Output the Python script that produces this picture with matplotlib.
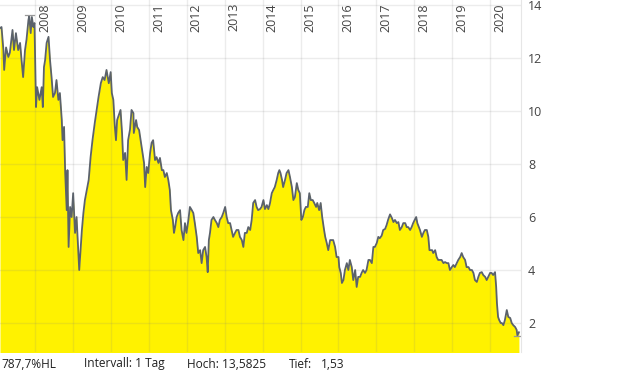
import matplotlib
matplotlib.use("Agg")
import matplotlib.pyplot as plt
import matplotlib.transforms as mtransforms
import numpy as np

YEARS = [
    2007.07, 2007.11, 2007.16, 2007.18, 2007.23, 2007.29, 2007.33, 2007.40, 2007.44, 2007.49,
    2007.55, 2007.60, 2007.64, 2007.68, 2007.73, 2007.77, 2007.82, 2007.84, 2007.88, 2007.91,
    2007.95, 2007.98, 2008.02, 2008.05, 2008.11, 2008.17, 2008.20, 2008.23, 2008.26, 2008.30,
    2008.35, 2008.39, 2008.43, 2008.47, 2008.52, 2008.56, 2008.61, 2008.65, 2008.70, 2008.72,
    2008.76, 2008.79, 2008.83, 2008.85, 2008.88, 2008.92, 2008.96, 2009.00, 2009.05, 2009.09,
    2009.12, 2009.16, 2009.20, 2009.23, 2009.27, 2009.31, 2009.36, 2009.41, 2009.46, 2009.51,
    2009.57, 2009.62, 2009.67, 2009.73, 2009.78, 2009.83, 2009.88, 2009.94, 2009.99, 2010.02,
    2010.06, 2010.10, 2010.13, 2010.16, 2010.22, 2010.25, 2010.29, 2010.32, 2010.37, 2010.41,
    2010.45, 2010.50, 2010.54, 2010.59, 2010.60, 2010.66, 2010.69, 2010.74, 2010.78, 2010.83,
    2010.87, 2010.90, 2010.94, 2010.98, 2011.03, 2011.07, 2011.11, 2011.16, 2011.20, 2011.25,
    2011.29, 2011.34, 2011.38, 2011.42, 2011.47, 2011.51, 2011.55, 2011.58, 2011.63, 2011.66,
    2011.69, 2011.73, 2011.77, 2011.82, 2011.86, 2011.91, 2011.95, 2011.99, 2012.04, 2012.08,
    2012.13, 2012.17, 2012.21, 2012.26, 2012.30, 2012.35, 2012.39, 2012.43, 2012.48, 2012.52,
    2012.55, 2012.58, 2012.61, 2012.65, 2012.70, 2012.74, 2012.79, 2012.83, 2012.87, 2012.92,
    2012.96, 2013.01, 2013.05, 2013.09, 2013.14, 2013.18, 2013.22, 2013.27, 2013.31, 2013.36,
    2013.40, 2013.45, 2013.49, 2013.53, 2013.58, 2013.62, 2013.67, 2013.71, 2013.75, 2013.80,
    2013.84, 2013.88, 2013.93, 2013.97, 2014.02, 2014.06, 2014.11, 2014.15, 2014.19, 2014.24,
    2014.28, 2014.32, 2014.37, 2014.41, 2014.44, 2014.47, 2014.51, 2014.54, 2014.59, 2014.63,
    2014.68, 2014.72, 2014.77, 2014.81, 2014.85, 2014.90, 2014.94, 2014.98, 2015.02, 2015.06,
    2015.10, 2015.14, 2015.19, 2015.23, 2015.27, 2015.32, 2015.36, 2015.41, 2015.44, 2015.49,
    2015.53, 2015.57, 2015.62, 2015.65, 2015.69, 2015.73, 2015.78, 2015.82, 2015.86, 2015.91,
    2015.95, 2016.00, 2016.02, 2016.06, 2016.09, 2016.13, 2016.17, 2016.22, 2016.26, 2016.30,
    2016.35, 2016.39, 2016.44, 2016.48, 2016.52, 2016.57, 2016.61, 2016.65, 2016.70, 2016.74,
    2016.79, 2016.83, 2016.88, 2016.92, 2016.96, 2017.01, 2017.05, 2017.09, 2017.14, 2017.18,
    2017.23, 2017.27, 2017.31, 2017.36, 2017.41, 2017.45, 2017.49, 2017.54, 2017.58, 2017.62,
    2017.67, 2017.71, 2017.76, 2017.80, 2017.84, 2017.89, 2017.93, 2017.97, 2018.01, 2018.05,
    2018.08, 2018.12, 2018.15, 2018.20, 2018.24, 2018.28, 2018.33, 2018.37, 2018.40, 2018.43,
    2018.47, 2018.50, 2018.55, 2018.59, 2018.63, 2018.68, 2018.72, 2018.77, 2018.81, 2018.86,
    2018.90, 2018.94, 2018.99, 2019.03, 2019.07, 2019.12, 2019.16, 2019.21, 2019.25, 2019.29,
    2019.34, 2019.38, 2019.43, 2019.47, 2019.52, 2019.56, 2019.60, 2019.65, 2019.69, 2019.73,
    2019.78, 2019.82, 2019.87, 2019.91, 2019.95, 2020.00, 2020.04, 2020.08, 2020.13, 2020.16,
    2020.18, 2020.21, 2020.24, 2020.28, 2020.31, 2020.35, 2020.39, 2020.44, 2020.48, 2020.53,
    2020.57, 2020.61, 2020.66, 2020.70, 2020.72, 2020.76,
]
PRICES = [
    13.13, 13.17, 12.30, 11.55, 12.40, 12.04, 12.20, 13.06, 12.30, 12.94,
    12.30, 12.57, 11.90, 11.28, 12.30, 12.70, 13.43, 13.58, 12.94, 13.55,
    13.17, 13.32, 10.15, 10.90, 10.42, 10.90, 10.15, 11.66, 11.92, 12.57,
    12.80, 11.92, 11.28, 10.53, 10.68, 11.17, 10.42, 10.68, 9.66, 8.90,
    9.40, 7.66, 6.26, 7.77, 4.87, 6.38, 6.00, 6.90, 5.40, 6.00,
    5.13, 4.00, 4.87, 5.50, 6.15, 6.64, 7.02, 7.40, 8.26, 8.90,
    9.55, 10.04, 10.53, 11.05, 11.28, 11.17, 11.55, 11.05, 11.47, 10.68,
    10.42, 9.40, 8.90, 9.66, 9.92, 10.04, 9.17, 8.15, 8.42, 7.40,
    8.90, 9.30, 10.04, 9.92, 9.17, 9.66, 9.40, 9.28, 8.90, 8.42,
    8.04, 7.13, 7.89, 7.66, 8.42, 8.80, 8.90, 8.15, 8.26, 8.04,
    8.23, 7.77, 7.77, 7.51, 7.66, 7.40, 7.02, 6.26, 5.89, 5.40,
    5.62, 6.00, 6.15, 6.26, 5.51, 5.13, 5.77, 5.40, 5.89, 6.38,
    6.26, 6.15, 5.77, 5.25, 4.64, 4.75, 4.26, 4.75, 4.87, 4.49,
    3.92, 5.13, 5.40, 5.89, 6.00, 5.89, 5.77, 5.62, 5.89, 6.00,
    6.15, 6.38, 6.00, 5.77, 5.77, 5.51, 5.25, 5.40, 5.51, 5.51,
    5.25, 5.13, 4.87, 5.40, 5.40, 5.62, 5.51, 5.89, 6.53, 6.64,
    6.38, 6.26, 6.30, 6.38, 6.64, 6.30, 6.45, 6.30, 6.50, 6.90,
    7.02, 7.13, 7.40, 7.66, 7.77, 7.66, 7.40, 7.13, 7.40, 7.66,
    7.77, 7.51, 7.13, 6.64, 6.75, 7.28, 7.02, 6.90, 5.89, 6.00,
    6.26, 6.38, 6.38, 6.90, 6.64, 6.64, 6.53, 6.38, 6.53, 6.26,
    6.53, 6.00, 5.51, 5.25, 5.02, 4.75, 5.13, 5.13, 5.13, 4.87,
    4.49, 4.49, 4.11, 3.89, 3.51, 3.62, 4.00, 4.26, 4.00, 4.38,
    4.11, 3.62, 4.00, 3.36, 3.74, 3.74, 3.89, 4.00, 3.89, 4.00,
    4.38, 4.38, 4.26, 4.87, 4.87, 5.02, 5.25, 5.20, 5.30, 5.51,
    5.55, 5.70, 5.90, 6.10, 5.96, 5.81, 5.89, 5.77, 5.81, 5.51,
    5.62, 5.77, 5.77, 5.62, 5.62, 5.51, 5.62, 5.77, 5.89, 6.00,
    5.77, 5.62, 5.51, 5.25, 5.40, 5.51, 5.51, 5.25, 4.75, 4.75,
    4.75, 4.64, 4.75, 4.49, 4.38, 4.38, 4.38, 4.26, 4.30, 4.26,
    4.26, 4.00, 4.11, 4.19, 4.11, 4.26, 4.38, 4.49, 4.64, 4.49,
    4.38, 4.11, 4.11, 4.00, 4.00, 3.89, 3.62, 3.55, 3.74, 3.89,
    3.92, 3.81, 3.74, 3.62, 3.74, 3.89, 3.89, 3.81, 3.92, 3.36,
    2.75, 2.23, 2.11, 2.00, 2.00, 1.92, 2.11, 2.49, 2.23, 2.19,
    2.00, 1.92, 1.85, 1.74, 1.53, 1.65,
]
YEAR_TICKS = list(range(2008, 2021))
Y_TICKS = [2, 4, 6, 8, 10, 12, 14]
FOOTER = ["787,7%HL", "Intervall: 1 Tag", "Hoch: 13,5825", "Tief:", "1,53"]
FOOTER_X = [1, 84, 187, 289, 321]   # Pixelpositionen der Fusszeile

plt.rcParams["font.family"] = ["Open Sans", "DejaVu Sans"]

x = np.array(YEARS)
y = np.array(PRICES)

fig = plt.figure(figsize=(6.2, 3.72), dpi=100)
ax = fig.add_axes([0, 1 - 352 / 372, 521 / 620, 352 / 372])

ax.fill_between(x, y, 0, color="#fff200", lw=0, zorder=1)
ax.plot(x, y, color="#5b626b", lw=1.3, zorder=3)

# Hoch / Tief Markierungen
imax, imin = int(np.argmax(y)), int(np.argmin(y))
ax.plot([x[imax] - 0.1, x[imax] + 0.13], [y[imax] + 0.03] * 2, color="#999999", lw=0.9, zorder=4)
ax.plot([x[imin] - 0.1, x[imin] + 0.1], [y[imin] - 0.03] * 2, color="#999999", lw=0.9, zorder=4)

ax.set_xlim(2007.07, 2020.815)
ax.set_ylim(0.906, 14.19)

for yr in YEAR_TICKS:
    ax.axvline(yr, color="#808080", alpha=0.15, lw=1, zorder=2)
for v in Y_TICKS:
    ax.axhline(v, color="#808080", alpha=0.15, lw=1, zorder=2)

ax.set_xticks([])
ax.set_yticks(Y_TICKS)
ax.yaxis.tick_right()
ax.tick_params(axis="y", length=0, pad=5, labelsize=9, labelcolor="#444444")
for s in ["top", "left", "bottom"]:
    ax.spines[s].set_visible(False)
ax.spines["right"].set_color("#e6e6e6")

year_tf = mtransforms.offset_copy(
    mtransforms.blended_transform_factory(ax.transData, ax.transAxes),
    fig=fig, x=3, y=0, units="dots")
for yr in YEAR_TICKS:
    ax.text(yr, 1 - 3 / 352, str(yr), rotation=90, ha="left", va="top",
            fontsize=9, color="#444444", transform=year_tf)

for txt, px in zip(FOOTER, FOOTER_X):
    fig.text(px / 620, 1 - 364 / 372, txt, ha="left", va="center", fontsize=8.6,
             color="#222222")

fig.savefig("out.png", dpi=100)
